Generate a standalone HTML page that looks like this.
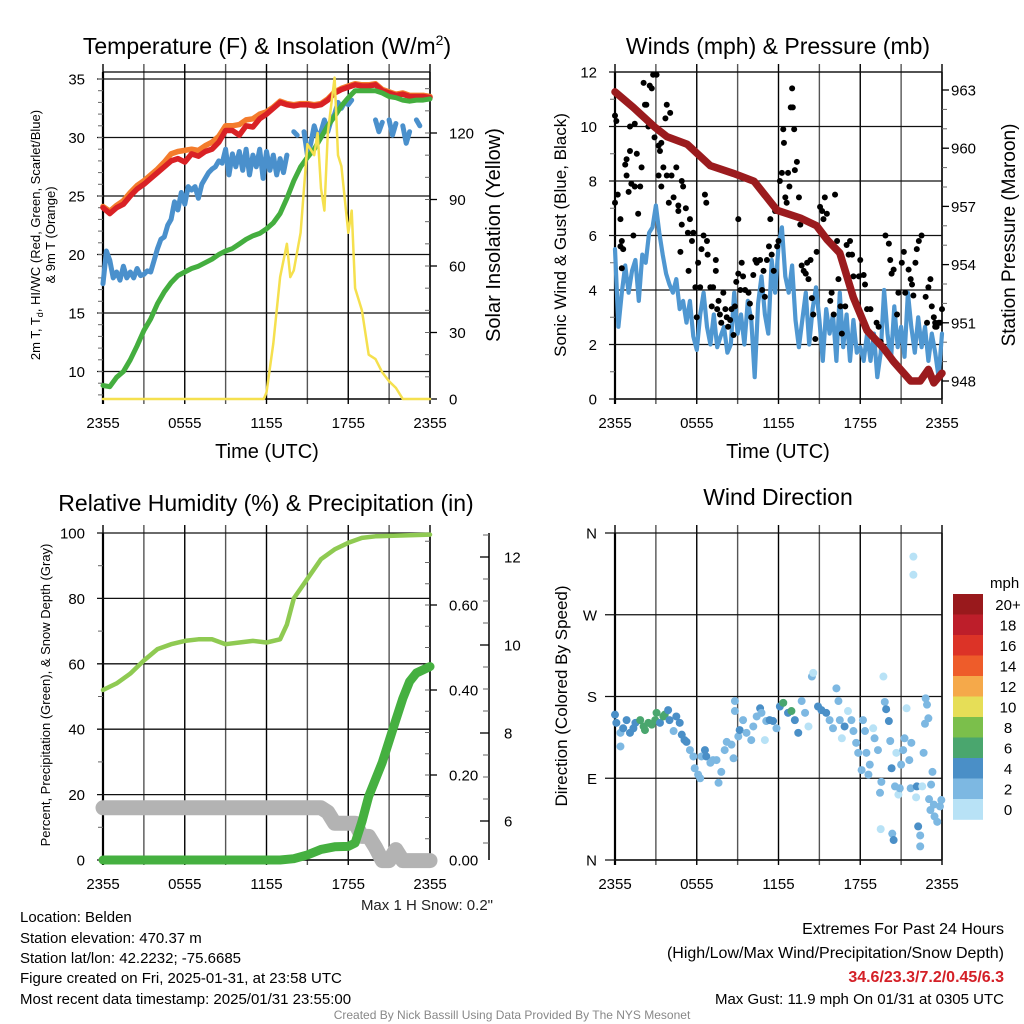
<!DOCTYPE html>
<html><head><meta charset="utf-8"><style>
html,body{margin:0;padding:0;background:#fff;}
svg{display:block;font-family:"Liberation Sans",Arial,sans-serif;}
</style></head><body>
<svg id="chart" width="1024" height="1024" viewBox="0 0 1024 1024" xmlns="http://www.w3.org/2000/svg">
<rect width="1024" height="1024" fill="#fff"/>
<g id="static" fill="#000">
<text x="267" y="54" font-size="23" text-anchor="middle">Temperature (F) &amp; Insolation (W/m<tspan font-size="14" dy="-9">2</tspan><tspan dy="9">)</tspan></text>
<text x="778" y="54" font-size="23" text-anchor="middle">Winds (mph) &amp; Pressure (mb)</text>
<text x="266" y="511" font-size="23" text-anchor="middle">Relative Humidity (%) &amp; Precipitation (in)</text>
<text x="778" y="505" font-size="23" text-anchor="middle">Wind Direction</text>
<text transform="translate(40,235) rotate(-90)" font-size="13" text-anchor="middle">2m T, T<tspan font-size="9" dy="3">d</tspan><tspan dy="-3">, HI/WC (Red, Green, Scarlet/Blue)</tspan></text>
<text transform="translate(55,235) rotate(-90)" font-size="13" text-anchor="middle">&amp; 9m T (Orange)</text>
<text transform="translate(500,235) rotate(-90)" font-size="20" text-anchor="middle">Solar Insolation (Yellow)</text>
<text x="267" y="458" font-size="20" text-anchor="middle">Time (UTC)</text>
<text transform="translate(566,235) rotate(-90)" font-size="17" text-anchor="middle">Sonic Wind &amp; Gust (Blue, Black)</text>
<text transform="translate(1015,235) rotate(-90)" font-size="19" text-anchor="middle">Station Pressure (Maroon)</text>
<text x="778" y="458" font-size="20" text-anchor="middle">Time (UTC)</text>
<text transform="translate(50,695) rotate(-90)" font-size="13" text-anchor="middle">Percent, Precipitation (Green), &amp; Snow Depth (Gray)</text>
<text transform="translate(567,696) rotate(-90)" font-size="17" text-anchor="middle">Direction (Colored By Speed)</text>
<text x="493" y="910" font-size="15" text-anchor="end" fill="#222">Max 1 H Snow: 0.2"</text>
<g font-size="15">
<text x="20" y="922">Location: Belden</text>
<text x="20" y="943">Station elevation: 470.37 m</text>
<text x="20" y="963">Station lat/lon: 42.2232; -75.6685</text>
<text x="20" y="983">Figure created on Fri, 2025-01-31, at 23:58 UTC</text>
<text x="20" y="1004">Most recent data timestamp: 2025/01/31 23:55:00</text>
</g>
<g font-size="16" text-anchor="end">
<text x="1004" y="934">Extremes For Past 24 Hours</text>
<text x="1004" y="958">(High/Low/Max Wind/Precipitation/Snow Depth)</text>
<text x="1004" y="982" fill="#d42027" font-weight="bold">34.6/23.3/7.2/0.45/6.3</text>
<text x="1004" y="1004" font-size="15">Max Gust: 11.9 mph On 01/31 at 0305 UTC</text>
</g>
<text x="512" y="1019" font-size="12" fill="#888" text-anchor="middle">Created By Nick Bassill Using Data Provided By The NYS Mesonet</text>
</g>
<g id="dyn"></g>
</svg>
<script>
// ---------- Panel 1 data ----------
const tempTimes=[0,.5,1,1.5,2,2.5,3,3.5,4,4.5,5,5.5,6,6.5,7,7.5,8,8.5,9,9.5,10,10.5,11,11.5,12,12.5,13,13.5,14,14.5,15,15.5,16,16.5,17,17.5,18,18.5,19,19.5,20,20.5,21,21.5,22,22.5,23,23.5,24];
const temp2m=[24.0,23.5,24.0,24.3,25.0,25.6,26.0,26.5,27.0,27.5,28.0,28.2,27.9,28.6,28.4,28.8,29.0,29.6,30.6,30.6,30.2,31.0,30.9,31.6,32.0,32.5,33.0,32.8,32.7,32.8,32.8,32.7,32.8,33.2,33.8,34.1,34.3,34.5,34.4,34.4,34.5,34.0,33.8,33.6,33.7,33.5,33.5,33.5,33.4];
const temp9m=[24.1,23.7,24.2,24.6,25.3,25.9,26.3,26.8,27.3,27.9,28.6,28.8,28.9,29.0,28.9,29.3,29.6,30.1,31.0,31.0,31.1,31.5,31.6,32.0,32.2,32.6,33.1,32.9,32.8,32.9,32.9,32.8,32.9,33.3,33.9,34.2,34.4,34.6,34.5,34.5,34.6,34.1,33.9,33.7,33.8,33.6,33.6,33.6,33.5];
const windChill=[8.8,8.7,9.5,10.0,11.0,12.2,13.5,14.5,15.8,16.8,17.6,18.2,18.5,18.8,19.0,19.3,19.6,20.0,20.3,20.5,20.9,21.3,21.6,21.8,22.2,22.7,23.5,24.8,26.3,27.5,28.3,29.0,30.0,31.0,31.8,32.7,33.4,34.0,34.0,34.0,34.0,33.8,33.5,33.4,33.2,33.1,33.2,33.2,33.3];
const dewTimes=[0,.25,.5,.75,1,1.25,1.5,1.75,2,2.25,2.5,2.75,3,3.25,3.5,3.75,4,4.25,4.5,4.75,5,5.25,5.5,5.75,6,6.25,6.5,6.75,7,7.25,7.5,7.75,8,8.25,8.5,8.75,9,9.25,9.5,9.75,10,10.25,10.5,10.75,11,11.25,11.5,11.75,12,12.25,12.5,12.75,13,13.25,13.5,13.75,14,14.25,14.5,14.75,15,15.25,15.5,15.75,16,16.25,16.5,16.75,17,17.25,17.5,17.75,18,18.25,18.5,18.75,19,19.25,19.5,19.75,20,20.25,20.5,20.75,21,21.25,21.5,21.75,22,22.25,22.5,22.75,23,23.25];
const dewPoint=[17.5,20.3,19.5,18.0,18.5,17.8,19.0,18.0,18.5,18.0,18.8,18.2,18.3,18.6,18.5,19.5,20.5,21.3,21.5,22.5,23.0,24.5,23.8,25.3,24.3,25.8,25.5,25.8,24.8,26.0,26.5,27.0,27.3,27.5,28.0,27.8,29.0,26.8,28.6,27.5,28.8,27.2,29.0,26.8,28.5,27.5,29.0,26.5,28.8,27.2,28.5,26.8,28.2,27.0,28.5,null,30.5,30.2,null,30.5,28.5,29.5,31.0,30.0,30.5,31.5,30.5,31.5,32.0,33.0,32.5,33.0,32.8,33.2,null,null,null,null,null,null,31.5,30.5,31.3,null,31.5,30.2,31.2,null,31.0,29.5,30.5,null,31.5,31.0];
const solarTimes=[0,11.8,12,12.5,13,13.5,13.75,14,14.5,15,15.5,15.75,16,16.25,16.5,17,17.25,17.5,18,18.25,18.5,19,19.5,20,20.5,21,21.5,22,24];
const solarVals=[0,0,3,25,55,70,55,58,75,115,110,120,95,85,120,145,110,105,75,85,50,40,20,18,12,8,5,0,0];
const tempTicks=[10,15,20,25,30,35];
const solarTicks=[0,30,60,90,120];
const timeLabels=["2355","0555","1155","1755","2355"];
// ---------- Panel 2 data ----------
const windTimes=[0,.25,.5,.75,1,1.25,1.5,1.75,2,2.25,2.5,2.75,3,3.25,3.5,3.75,4,4.25,4.5,4.75,5,5.25,5.5,5.75,6,6.25,6.5,6.75,7,7.25,7.5,7.75,8,8.25,8.5,8.75,9,9.25,9.5,9.75,10,10.25,10.5,10.75,11,11.25,11.5,11.75,12,12.25,12.5,12.75,13,13.25,13.5,13.75,14,14.25,14.5,14.75,15,15.25,15.5,15.75,16,16.25,16.5,16.75,17,17.25,17.5,17.75,18,18.25,18.5,18.75,19,19.25,19.5,19.75,20,20.25,20.5,20.75,21,21.25,21.5,21.75,22,22.25,22.5,22.75,23,23.25,23.5,23.75,24];
const windSpeed=[5.5,2.65,3.9,4.9,3.9,4.7,5.1,3.6,5.3,5.0,6.1,6.3,7.1,6.1,5.3,4.6,4.2,3.9,4.4,3.3,3.6,2.8,3.6,2.3,1.8,3.1,3.9,2.65,2.0,3.1,1.9,2.3,2.65,1.7,2.0,3.9,2.4,3.1,2.0,3.6,2.9,0.8,3.5,4.5,3.1,2.4,5.1,3.9,5.6,6.3,4.5,3.9,4.9,2.9,1.9,2.9,3.9,2.0,3.3,4.1,2.9,1.4,3.3,2.4,3.1,1.4,3.9,1.9,3.1,1.4,2.9,1.7,1.9,1.4,2.4,1.4,2.4,0.8,1.7,4.0,2.4,1.4,3.4,1.9,2.65,1.55,3.9,2.65,1.7,3.0,1.9,2.65,1.4,2.4,1.7,0.8,2.4];
const gustTimes=[0,.1,0,.2,.4,.5,.4,.6,.5,.75,.85,.85,1,1.1,1.2,1.35,1.45,1.6,1.7,1.85,1.95,2.1,2.2,2.3,1.45,1.1,2.45,2.55,2.7,2.8,3.05,2.9,3.2,3.3,3.4,3.2,3.4,3.55,3.7,3.8,4.05,3.8,3.95,4.15,4.3,4.5,4.65,4.65,4.9,5,4.9,4.8,5.2,5.35,5.5,5.65,5.4,5.75,5.9,6,6.1,6.25,6.35,6.5,6.6,6.7,6.75,6.8,7,7.1,7.2,7.4,7.4,7.5,7.6,7.7,7.8,7.95,8.1,8.2,8.3,8.45,8.55,8.7,8.8,8.9,9.05,9.05,9.2,9.3,9.4,9.55,9.8,9.9,10,10.15,10.3,10.4,10.65,10.8,10.9,11,11.15,11.3,11.4,11.5,11.65,11.75,11.9,12,12.1,12.25,12.35,12.4,12.5,12.6,12.7,12.8,12.9,13,13.05,13.15,13.2,13.35,13.5,13.6,13.7,13.85,14,14.1,14.2,14.35,14.45,14.55,14.7,14.8,15.05,15.2,15.3,15.4,15.55,15.8,15.9,16.05,16.15,16.3,16.4,16.55,16.65,16.9,17,17.15,17.25,17.4,17.5,17.65,17.9,18,18.25,18.35,18.5,18.75,19,19.2,19.35,19.5,19.85,20.1,20.2,20.3,20.45,20.7,20.8,21.05,21.2,21.3,21.55,21.7,21.8,21.9,22.05,22.15,22.3,22.5,22.8,22.9,23,23.15,23.25,23.4,23.5,23.6,23.75,23.85,24,23.5];
const gustVals=[10.4,10.2,7.2,7.5,6.6,5.8,5.6,5.5,4.8,8.6,8.2,8.8,7.6,9.1,7.9,6.0,7.8,9.0,6.8,7.8,8.5,11.6,10.8,10.8,10.1,10.0,10.0,11.5,11.4,11.9,11.9,9.6,9.3,9.1,9.4,8.2,7.8,8.5,10.3,10.8,10.5,8.2,7.2,8.2,7.4,8.5,7.1,6.9,8.0,7.8,6.4,5.4,7.0,6.1,6.6,5.8,4.7,6.1,4.1,3.0,5.0,4.1,5.5,6.0,7.5,7.2,5.8,5.3,4.1,3.4,4.1,5.1,4.7,3.3,3.6,3.1,2.8,3.9,3.3,3.0,2.65,2.9,3.3,2.35,3.4,4.3,6.6,4.6,4.0,5.0,4.5,4.0,3.9,3.5,3.0,4.55,5.1,5.0,5.1,4.0,4.7,3.75,5.1,5.6,6.6,5.3,4.7,6.9,5.6,5.8,8.0,8.3,9.9,9.4,7.4,7.2,8.3,7.8,10.7,11.4,10.7,9.9,8.4,8.7,7.4,6.4,4.9,4.7,4.6,5.0,4.4,5.1,3.7,3.1,2.2,5.4,7.05,6.9,6.6,7.4,6.8,3.6,3.9,3.1,7.5,5.8,4.4,3.4,2.4,3.4,5.65,5.3,5.8,5.3,4.5,3.5,4.5,5.1,4.55,4.2,3.3,3.3,2.2,2.8,2.65,2.1,6.0,5.7,5.1,4.6,4.75,3.1,3.9,5.0,5.4,3.9,4.75,4.4,4.2,3.8,5.0,5.5,5.8,6.0,3.75,2.8,4.1,4.4,3.4,3.0,2.8,2.65,2.8,2.8,3.3,2.65];
const presTimes=[0,1.35,2.9,3.8,5.3,7,8.7,10.2,11.9,13.6,14.8,15.55,16.5,17.5,18.5,19.7,20.45,21.7,22.4,23,23.4,24];
const pressure=[962.9,962.1,961.1,960.6,960.2,959.1,958.7,958.3,956.8,956.4,956.0,955.3,954.6,952.3,950.6,949.7,949.0,948.0,948.0,948.6,947.9,948.4];
const windTicks=[0,2,4,6,8,10,12];
const presTicks=[948,951,954,957,960,963];
// ---------- Panel 3 data ----------
const rhTimes=[0,1,2,3,4,5,6,7,8,9,10,11,12,13,13.5,14,15,16,17,18,19,20,24];
const rhVals=[52,54,57,61,64.5,66,67,67.5,67.5,66,66.5,67,66.5,67.5,72,80,86,92,95,97,98.5,99,99.5];
const precipTimes=[0,13,14,15,16,17,18,18.5,19,19.5,20,20.5,21,21.5,22,22.5,23,24];
const precipVals=[0,0,0.003,0.012,0.025,0.031,0.032,0.04,0.09,0.15,0.19,0.23,0.28,0.33,0.38,0.42,0.44,0.455];
const snowTimes=[0,16,16.5,17,18,18.5,19,19.5,20,20.5,21,21.5,22,24];
const snowVals=[6.3,6.3,6.2,5.95,5.95,5.95,5.65,5.65,5.4,5.1,5.1,5.35,5.1,5.1];
const rhTicks=[0,20,40,60,80,100];
const precipTicks=[0,0.2,0.4,0.6];
const precipLabels=["0.00","0.20","0.40","0.60"];
const snowTicks=[6,8,10,12];
// ---------- Panel 4 data ----------
const dirTimes=[0,.1,.4,.4,.6,.85,1.1,1.35,1.5,1.85,2.1,2.2,2.45,2.7,2.95,3.05,3.3,3.55,3.65,3.9,4,4.3,4.5,4.75,4.9,5.1,5.25,5.5,5.75,5.85,6.1,6.25,6.35,6.6,6.7,7,7.2,7.45,7.6,7.8,8.05,8.2,8.55,8.7,8.8,8.8,9.05,9.15,9.4,9.65,10,10.15,10.4,10.65,10.75,11,11.1,11.35,11.6,11.85,12.1,12.35,12.7,12.95,13.2,13.45,13.7,13.95,14.2,14.45,14.55,14.9,15.15,15.5,15.75,16,16.25,16.4,16.5,16.65,16.85,17.1,17.35,17.5,17.7,17.85,18.1,18.2,18.35,18.45,18.6,18.7,18.95,19.05,19.3,19.45,19.5,19.55,19.7,19.8,19.9,20.1,20.2,20.3,20.35,20.45,20.55,20.65,20.8,20.9,21,21.15,21.25,21.4,21.6,21.7,21.75,21.9,21.9,22.1,22.15,22.25,22.4,22.4,22.55,22.65,22.8,22.9,23,22.75,23.05,23.2,23.3,23.15,23.4,23.45,23.65,23.85,23.95];
const dirVals=[160,151,140,125,145,154,140,145,151,154,147,143,151,149,154,162,151,158,160,165,154,142,158,151,138,132,130,121,114,101,94,90,114,121,114,107,110,110,85,97,121,130,127,112,175,164,136,143,154,140,132,147,158,167,162,132,153,154,153,145,169,173,162,164,154,140,175,162,147,202,206,169,165,162,154,145,189,175,154,134,147,164,154,142,129,118,99,154,142,118,94,105,145,134,121,74,34,86,202,174,166,153,131,101,29,22,81,118,72,79,105,121,134,167,110,79,129,334,314,69,81,37,27,15,81,118,178,171,156,150,67,83,97,55,61,48,42,59,66];
const dirSpeeds=[5,5,3,3,5,5,5,5,5,7,7,7,7,7,7,7,5,7,7,5,5,3,5,5,5,5,5,3,3,3,3,3,3,5,5,3,3,3,3,3,3,3,3,3,3,3,3,5,3,3,3,3,3,5,3,1,3,5,5,3,5,7,5,7,5,5,3,3,1,3,1,5,5,5,3,3,3,3,3,1,5,1,3,3,3,3,3,3,3,3,3,3,1,3,3,3,1,3,1,3,5,5,3,5,3,5,3,1,1,3,3,3,3,1,3,3,3,1,1,1,5,5,3,3,1,3,3,3,3,3,3,3,3,3,3,3,3,3,3];
const dirTicks=[0,90,180,270,360];
const dirLabels=["N","E","S","W","N"];
const cbLabels=["20+","18","16","14","12","10","8","6","4","2","0"];
const cbColors=["#99191c","#bd1e2a","#dc3327","#ee5c2a","#f5a94a","#e6de57","#7bbf4b","#4aa66e","#4a8fc7","#7db8e2","#b8e2f6"];

// ---------- scales ----------
const NS="http://www.w3.org/2000/svg";
const dyn=document.getElementById('dyn');
function mk(tag,attrs,parent){const e=document.createElementNS(NS,tag);for(const k in attrs)e.setAttribute(k,attrs[k]);(parent||dyn).appendChild(e);return e;}
const xL=t=>103+t*(327/24);
const xR=t=>615+t*(327/24);
const yTemp=v=>79+(35-v)*11.7;
const ySolar=v=>399-v*(266/120);
const yWind=v=>399-v*27.25;
const yPres=p=>90+(963-p)*19.4;
const yRH=v=>860-v*3.27;
const yPrecip=v=>860-v*425;
const ySnow=v=>821-(v-6)*44;
const yDir=d=>860-d*327/360;

function pathD(ts,vs,fx,fy){let d="",pen=false;for(let i=0;i<ts.length;i++){if(vs[i]===null||vs[i]===undefined){pen=false;continue;}d+=(pen?"L":"M")+fx(ts[i]).toFixed(1)+","+fy(vs[i]).toFixed(1);pen=true;}return d;}

function frame(x0,x1,y0,y1,name){
  const g=mk('g',{});
  
  
  for(let i=0;i<=8;i++){const x=x0+i*(x1-x0)/8;
    const l=mk('line',{x1:x,x2:x,y1:y0-8,y2:y1+5,stroke:i%2?'#555':'#000','stroke-width':1.4},g);
    
    }
  for(let i=0;i<5;i++){const t=mk('text',{x:x0+i*(x1-x0)/4,y:y1+29,'font-size':15,'text-anchor':'middle'},g);t.textContent=timeLabels[i];
    
    }
  mk('line',{x1:x0,x2:x0,y1:y0,y2:y1+5,stroke:'#000','stroke-width':2.2},g);
  mk('line',{x1:x0,x2:x1,y1:y1,y2:y1,stroke:'#000','stroke-width':1.4},g);
  mk('line',{x1:x1,x2:x1,y1:y0,y2:y1,stroke:'#000','stroke-width':1.4},g);
  return g;
}
function hgrid(g,vals,fy,x0,x1,labels,lx){vals.forEach((v,i)=>{const y=fy(v);
  const l=mk('line',{x1:x0-6,x2:x1,y1:y,y2:y,stroke:'#111','stroke-width':1.3},g);
  
  
  const t=mk('text',{x:lx,y:y+5.5,'font-size':15,'text-anchor':'end'},g);t.textContent=labels?labels[i]:String(v);
  
  });}
function rticks(g,vals,fy,x,labels,lx,len){vals.forEach((v,i)=>{const y=fy(v);
  mk('line',{x1:x,x2:x+(len||7),y1:y,y2:y,stroke:'#000','stroke-width':1.3},g);
  const t=mk('text',{x:lx,y:y+5.5,'font-size':15},g);t.textContent=labels?labels[i]:String(v);
  
  });}
function series(d,stroke,w,name,op){const p=mk('path',{d:d,fill:'none',stroke:stroke,'stroke-width':w,'stroke-linecap':'round','stroke-linejoin':'round',opacity:op||1});
  
  return p;}

// ---------- Panel 1 ----------
const g1=frame(103,430,72,399,'temperature-panel');
mk('line',{x1:103,x2:430,y1:72,y2:72,stroke:'#000','stroke-width':1.3},g1);
hgrid(g1,tempTicks,yTemp,103,430,null,85);
for(let v=8;v<=35;v++)mk('line',{x1:98,x2:103,y1:yTemp(v),y2:yTemp(v),stroke:'#666','stroke-width':1},g1);
for(let v=10;v<=140;v+=10)mk('line',{x1:430,x2:425,y1:ySolar(v),y2:ySolar(v),stroke:'#666','stroke-width':1},g1);
rticks(g1,solarTicks,ySolar,430,null,449);
series(pathD(tempTimes,temp9m,xL,yTemp),'#f47c2c',5.5,'temp-9m-line');
series(pathD(tempTimes,temp2m,xL,yTemp),'#d92125',5.5,'temp-2m-line');
series(pathD(dewTimes,dewPoint,xL,yTemp),'#4a90cc',5,'dewpoint-line');
series(pathD(tempTimes,windChill,xL,yTemp),'#44ae3f',5,'windchill-line');
series(pathD(solarTimes,solarVals,xL,ySolar),'#f5e04e',2.5,'insolation-line');

// ---------- Panel 2 ----------
const g2=frame(615,942,72,399,'winds-panel');
mk('line',{x1:615,x2:942,y1:72,y2:72,stroke:'#000','stroke-width':1.3},g2);
hgrid(g2,windTicks,yWind,615,942,null,597);
for(let v=1;v<12;v+=2)mk('line',{x1:610,x2:615,y1:yWind(v),y2:yWind(v),stroke:'#666','stroke-width':1},g2);
for(let p=948;p<=963;p++)mk('line',{x1:942,x2:947,y1:yPres(p),y2:yPres(p),stroke:'#666','stroke-width':1},g2);
rticks(g2,presTicks,yPres,942,null,951);
series(pathD(windTimes,windSpeed,xR,yWind),'#4f97d1',4.2,'wind-speed-line');
gustTimes.forEach((t,i)=>{const c=mk('circle',{cx:xR(t),cy:yWind(gustVals[i]),r:3,fill:'#000'});
  
  });
series(pathD(presTimes,pressure,xR,yPres),'#9b1b1e',7.5,'pressure-line');

// ---------- Panel 3 ----------
const g3=frame(103,430,533,860,'humidity-panel');
hgrid(g3,rhTicks,yRH,103,430,null,85);
for(let v=10;v<100;v+=20)mk('line',{x1:98,x2:103,y1:yRH(v),y2:yRH(v),stroke:'#666','stroke-width':1},g3);
for(let v=0.05;v<0.78;v+=0.05)mk('line',{x1:430,x2:425,y1:yPrecip(v),y2:yPrecip(v),stroke:'#666','stroke-width':1},g3);
rticks(g3,precipTicks,yPrecip,430,precipLabels,449);
mk('line',{x1:489,x2:489,y1:533,y2:860,stroke:'#000','stroke-width':1.5},g3);
for(let v=5.5;v<12.8;v+=0.5)mk('line',{x1:489,x2:483,y1:ySnow(v),y2:ySnow(v),stroke:'#666','stroke-width':1},g3);
snowTicks.forEach(v=>{mk('line',{x1:489,x2:480,y1:ySnow(v),y2:ySnow(v),stroke:'#000','stroke-width':1.3},g3);
  const t=mk('text',{x:504,y:ySnow(v)+5.5,'font-size':15},g3);t.textContent=String(v);
  
  });
series(pathD(snowTimes,snowVals,xL,ySnow),'#b3b3b3',15,'snow-depth-line');
series(pathD(rhTimes,rhVals,xL,yRH),'#8fca52',4.5,'relative-humidity-line');
series(pathD(precipTimes,precipVals,xL,yPrecip),'#45b040',9,'precipitation-line');

// ---------- Panel 4 ----------
const g4=frame(615,942,533,860,'direction-panel');
dirTicks.forEach((d,i)=>{const y=yDir(d);
  mk('line',{x1:605,x2:942,y1:y,y2:y,stroke:'#111','stroke-width':1.3},g4);
  const t=mk('text',{x:597,y:y+5.5,'font-size':15,'text-anchor':'end'},g4);t.textContent=dirLabels[i];
  
  });
function spdColor(s){const idx=Math.min(10,Math.floor(s/2));return cbColors[10-idx];}
dirTimes.forEach((t,i)=>{const c=mk('circle',{cx:xR(t),cy:yDir(dirVals[i]),r:4,fill:spdColor(dirSpeeds[i])});
  
  });
const cb=mk('g',{});


const mph=mk('text',{x:990,y:588,'font-size':15},cb);mph.textContent='mph';
cbLabels.forEach((l,i)=>{const y=594+i*20.5;
  const r=mk('rect',{x:953,y:y,width:30,height:20.8,fill:cbColors[i]},cb);
  
  
  const t=mk('text',{x:1008,y:y+16,'font-size':15,'text-anchor':'middle'},cb);t.textContent=l;
  
  });
</script>
</body></html>
